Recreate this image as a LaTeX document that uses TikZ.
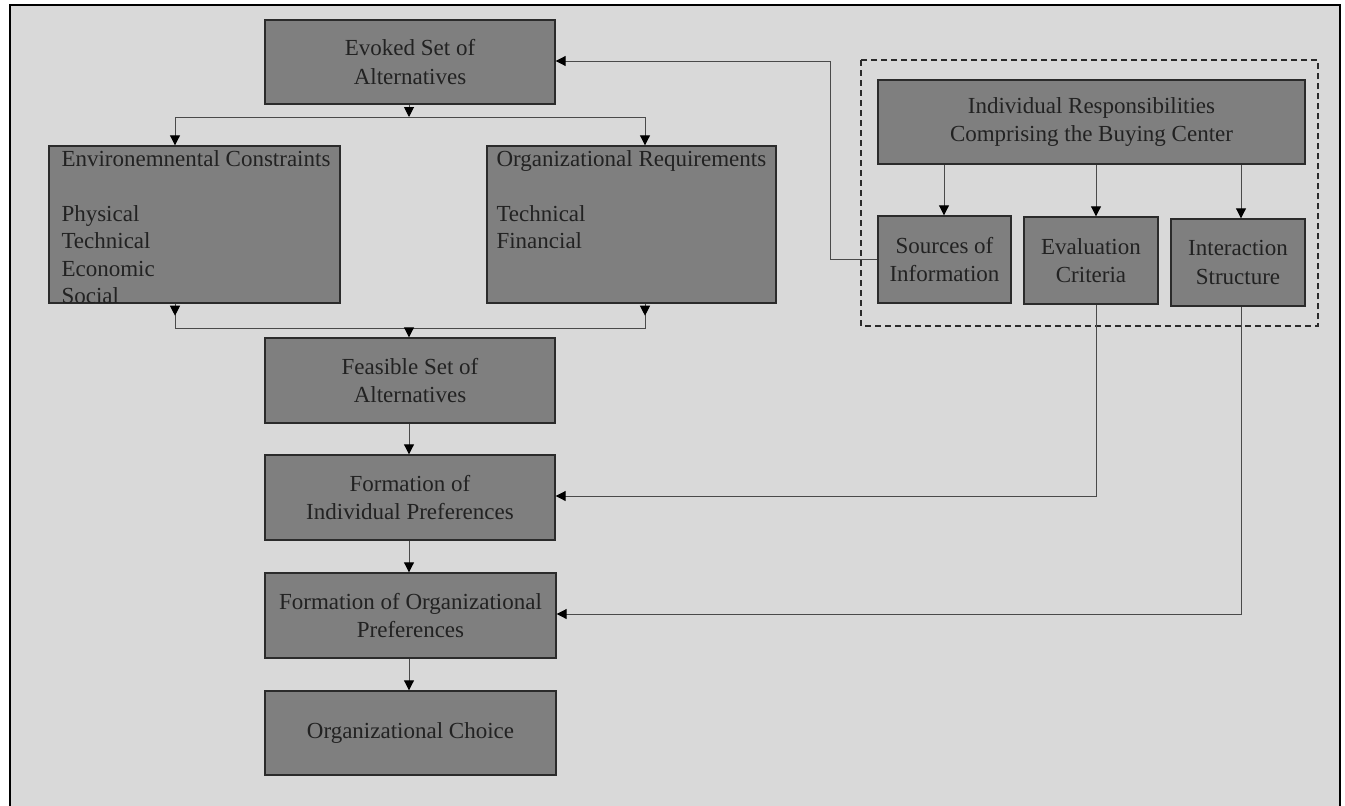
\documentclass[tikz,border=0pt]{standalone}
\usepackage{fontspec}
\setmainfont{Liberation Serif}
\usetikzlibrary{arrows.meta,calc}
\definecolor{bg}{HTML}{D9D9D9}
\definecolor{boxfill}{HTML}{7F7F7F}
\definecolor{boxline}{HTML}{2B2B2B}
\definecolor{txt}{HTML}{222222}
\definecolor{conn}{HTML}{4A4A4A}
\begin{document}
\begin{tikzpicture}[x=1pt,y=-1pt,
  box/.style={draw=boxline, fill=boxfill, line width=1.4pt, inner sep=0pt, align=center,
    text=txt, font=\fontsize{23}{28.5}\selectfont},
  lbl/.style={inner sep=0pt, align=left, text=txt, font=\fontsize{23}{27.5}\selectfont},
  conline/.style={draw=conn, line width=1pt},
  arr/.style={conline, -{Triangle[width=10pt,length=10pt,color=black]}}]
\useasboundingbox (0,0) rectangle (1345,806);
\fill[white] (0,0) rectangle (1345,806);
\fill[bg] (10,5) rectangle (1340,806);
\draw[black, line width=2pt] (10,806) -- (10,5) -- (1340,5) -- (1340,806);

% left column
\node[box, minimum width=290pt, minimum height=84pt] (evoked) at (410,62) {Evoked Set of\\Alternatives};
\node[box, minimum width=291pt, minimum height=157pt] (env) at (194.5,224.5) {};
\node[box, minimum width=289pt, minimum height=157pt] (org) at (631.5,224.5) {};
\node[lbl, anchor=north west] (envtxt) at ($(env.north west)+(13,5)$)
  {Environemnental Constraints\\[27.5pt]Physical\\Technical\\Economic\\Social};
\node[lbl, anchor=north west] (orgtxt) at ($(org.north west)+(10,5)$)
  {Organizational Requirements\\[27.5pt]Technical\\Financial};
\node[box, minimum width=290pt, minimum height=85pt] (feasible) at (410,380.5) {Feasible Set of\\Alternatives};
\node[box, minimum width=290pt, minimum height=85pt] (formind) at (410,497.5) {Formation of\\Individual Preferences};
\node[box, minimum width=291pt, minimum height=85pt] (formorg) at (410.5,615.5) {Formation of Organizational\\Preferences};
\node[box, minimum width=291pt, minimum height=84pt] (choice) at (410.5,733) {Organizational Choice};

% right group
\draw[boxline, line width=2pt, dash pattern=on 6pt off 4pt] (861,60) rectangle (1318,326);
\node[box, minimum width=427pt, minimum height=84pt] (indresp) at (1091.5,122) {Individual Responsibilities\\Comprising the Buying Center};
\node[box, minimum width=133pt, minimum height=87pt] (sources) at (944.5,259.5) {Sources of\\Information};
\node[box, minimum width=134pt, minimum height=87pt] (eval) at (1091,260.5) {Evaluation\\Criteria};
\node[box, minimum width=134pt, minimum height=87pt] (inter) at (1238,262.5) {Interaction\\Structure};

% coordinates
\coordinate (sM) at (409,117);
\coordinate (eL) at (175,117);
\coordinate (eR) at (645,117);
\coordinate (jL) at (175,328);
\coordinate (jR) at (645,328);
\coordinate (jM) at (409,328);
\coordinate (ax1) at (944,0);
\coordinate (ax2) at (1096,0);
\coordinate (ax3) at (1241,0);
\coordinate (c1) at (830,61);
\coordinate (c2) at (1096,496);
\coordinate (c3) at (1241,614);

% connectors
\draw[arr] (evoked.south -| sM) -- (sM);
\draw[conline] (eL) -- (eR);
\draw[arr] (eL) -- (eL |- env.north);
\draw[arr] (eR) -- (eR |- org.north);
\draw[conline] (jL |- env.south) -- (jL) -- (jR) -- (jR |- org.south);
\draw[arr] (jL |- env.south) -- ++(0,12);
\draw[arr] (jR |- org.south) -- ++(0,12);
\draw[arr] (jM) -- (jM |- feasible.north);
\draw[arr] (feasible.south -| sM) -- (formind.north -| sM);
\draw[arr] (formind.south -| sM) -- (formorg.north -| sM);
\draw[arr] (formorg.south -| sM) -- (choice.north -| sM);

\draw[arr] (indresp.south -| ax1) -- (sources.north -| ax1);
\draw[arr] (indresp.south -| ax2) -- (eval.north -| ax2);
\draw[arr] (indresp.south -| ax3) -- (inter.north -| ax3);

\draw[arr] (sources.west) -| (c1) -- (evoked.east |- c1);
\draw[arr] (eval.south -| c2) -- (c2) -- (formind.east |- c2);
\draw[arr] (inter.south -| c3) -- (c3) -- (formorg.east |- c3);
\end{tikzpicture}
\end{document}
